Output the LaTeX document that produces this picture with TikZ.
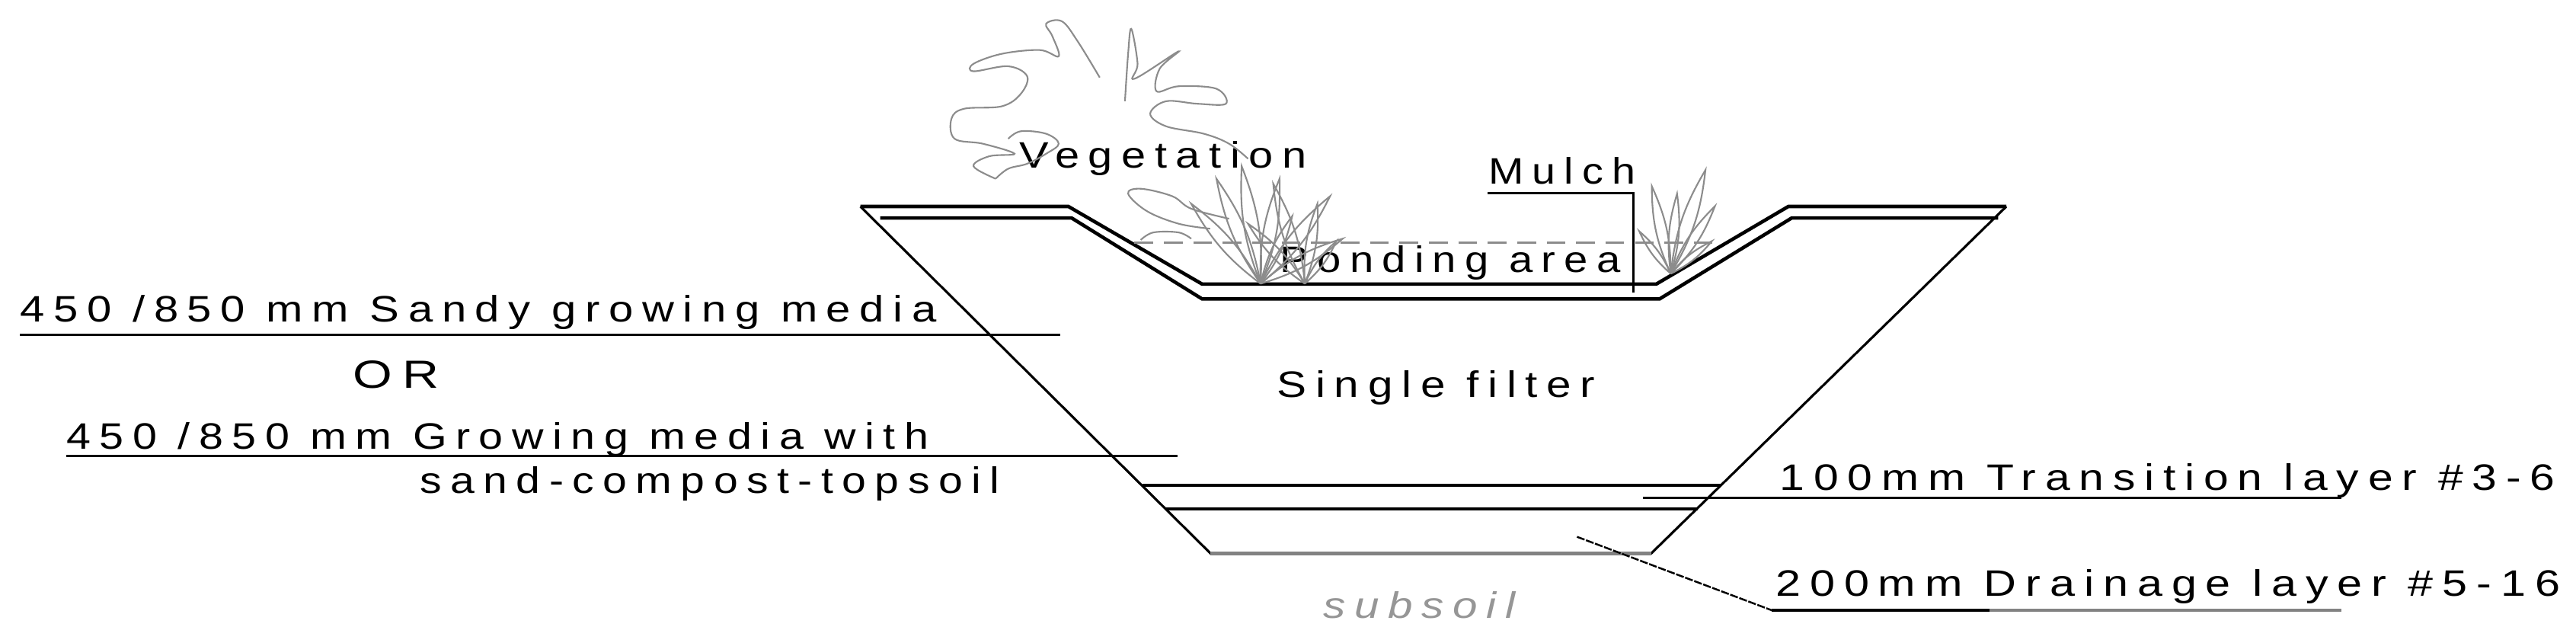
\documentclass[tikz,border=0pt]{standalone}
\usepackage{graphicx}
\usepackage{fontspec}
\setmainfont{Liberation Sans}[LetterSpace=20]
\usetikzlibrary{positioning, calc}
\definecolor{plantgray}{RGB}{140, 140, 140}
\definecolor{soilgray}{RGB}{130, 130, 130}
\definecolor{subgray}{RGB}{150, 150, 150}
\newcommand{\fitlbl}[2]{\resizebox{#1}{0.35cm}{#2}}

\begin{document}
\begin{tikzpicture}[
    x=0.02168cm, y=-0.02168cm,
    label/.style={font=\fontsize{12}{14}\selectfont, inner sep=0pt, anchor=base west},
    rim/.style={line width=1.3pt, line join=miter},
    layer/.style={line width=1.1pt},
    lead/.style={line width=0.9pt},
    plant/.style={draw=plantgray, line width=0.6pt}
]
    \useasboundingbox (0,0) rectangle (1560,389);

    % Trench outline
    \coordinate (tl) at (521,125);
    \coordinate (tr) at (1215,125);
    \coordinate (bl) at (733,335);
    \coordinate (br) at (1000,335);
    \draw[line width=0.9pt] (tl) -- (bl) -- (br) -- (tr);
    \draw[line width=1.3pt, soilgray] (bl) -- (br);

    % Rim and ponding surface
    \draw[rim] (tl) -- (647,125) -- (728,172) -- (1003,172) -- (1083,125) -- (tr);
    \draw[rim] (533,132) -- (649,132) -- (728,181) -- (1005,181) -- (1085,132) -- (1210,132);
    \draw[dashed, line width=1pt, plantgray, dash pattern=on 7pt off 4pt] (687,147) -- (1037,147);

    % Layer lines
    \draw[layer] (692,294) -- (1042,294);
    \draw[layer] (706,308) -- (1028,308);

    % Labels
    \node[label] (sandy) at (12,195) {\fitlbl{12.03cm}{450 /850 mm Sandy growing media}};
    \coordinate (sandyend) at (642,202.6);
    \draw[lead] (sandy.base west |- sandyend) -- (sandyend);
    \node[label, anchor=center] (or) at (240,227) {\resizebox{1.13cm}{0.36cm}{OR}};
    \node[label] (grow) at (40,272) {\fitlbl{11.32cm}{450 /850 mm Growing media with}};
    \coordinate (growend) at (713,276);
    \draw[lead] (grow.base west |- growend) -- (growend);
    \node[label] (mix) at (254,298.5) {\fitlbl{7.61cm}{sand-compost-topsoil}};
    \node[label] (filter) at (773,240.6) {\fitlbl{4.18cm}{Single filter}};
    \node[label] (ponding) at (775,165) {\fitlbl{4.47cm}{Ponding area}};
    \node[label] (veg) at (617,101.5) {\fitlbl{3.77cm}{Vegetation}};
    \node[label] (mulch) at (901,111.5) {\fitlbl{1.93cm}{Mulch}};
    \coordinate (mulchtop) at (989,117);
    \coordinate (mulchend) at (989,177);
    \draw[lead] (mulch.base west |- mulchtop) -- (mulchtop) -- (mulchend);

    \node[label] (trans) at (1077.5,296.6) {\fitlbl{10.18cm}{100mm Transition layer \#3-6}};
    \coordinate (transstart) at (995,301.5);
    \coordinate (transend) at (1418,301.5);
    \draw[lead] (transstart) -- (transend);

    \node[label] (drain) at (1075,361) {\fitlbl{10.30cm}{200mm Drainage layer \#5-16}};
    \coordinate (drainstart) at (955,325);
    \coordinate (drainknee) at (1073,369.5);
    \coordinate (drainmid) at (1205,369.5);
    \coordinate (drainend) at (1418,369.5);
    \draw[line width=0.7pt, dash pattern=on 3pt off 0.6pt] (drainstart) -- (drainknee);
    \draw[lead] (drainknee) -- (drainmid);
    \draw[lead, soilgray] (drainmid) -- (drainend);

    \node[label, subgray] (subsoil) at (801,374.4) {\fitlbl{2.52cm}{\itshape subsoil}};

    % Vegetation
    \begin{scope}[shift={(507.4,2.3)}, x=0.008293cm, y=-0.003285cm]
        \draw[plant] plot[smooth, tension=0.6] coordinates {
            (250,700) (215,650) (240,610) (280,600) (230,560) (185,540) (180,460)
            (200,420) (260,410) (290,360) (300,290) (270,250) (215,270) (215,240)
            (260,200) (320,185) (350,210) (340,130) (330,80) (355,70) (380,150) (415,295)};
        \draw[plant] plot[smooth, tension=0.6] coordinates {
            (455,390) (460,200) (465,100) (475,240) (470,300) (540,190) (510,260)
            (505,350) (540,330) (600,340) (615,400) (570,400) (520,390) (495,440)
            (520,490) (580,520) (620,560) (650,620)};
        \draw[plant] plot[smooth, tension=0.6] coordinates {
            (250,700) (270,660) (300,640) (330,600) (350,560) (330,520) (290,510) (270,540)};
        \draw[plant] plot[smooth, tension=0.6] coordinates {
            (620,860) (560,820) (530,770) (480,740) (460,760) (490,830) (540,880) (590,900)};
        \draw[plant] plot[smooth, tension=0.6] coordinates {
            (480,945) (500,915) (540,915) (560,940)};
        \foreach \tx/\ty in {600/700, 640/650, 700/700, 780/770, 800/940, 560/800, 720/850}
            \draw[plant] (670,1120) to[bend left=12] (\tx,\ty) to[bend left=12] (670,1120);
        \foreach \tx/\ty in {690/720, 760/800, 790/950, 650/880}
            \draw[plant] (740,1120) to[bend left=12] (\tx,\ty) to[bend left=12] (740,1120);
        \foreach \tx/\ty in {1270/910, 1290/730, 1375/665, 1390/810, 1385/950, 1330/760}
            \draw[plant] (1320,1080) to[bend left=12] (\tx,\ty) to[bend left=12] (1320,1080);
    \end{scope}
\end{tikzpicture}
\end{document}
